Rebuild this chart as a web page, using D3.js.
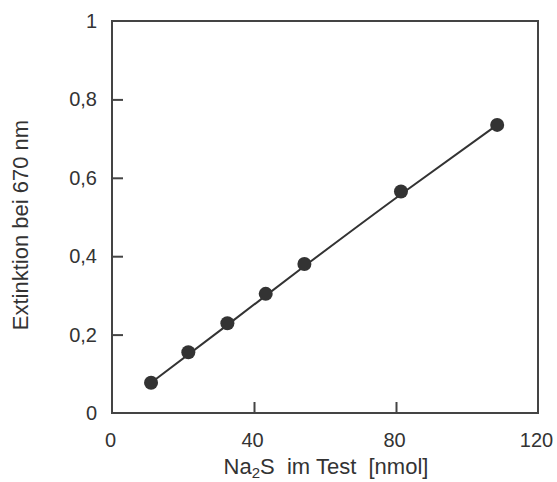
<!DOCTYPE html>
<html>
<head>
<meta charset="utf-8">
<script src="https://cdn.jsdelivr.net/npm/d3@7"></script>
<style>
  body { margin: 0; background: #fff; }
  svg text { font-family: "Liberation Sans", Arial, sans-serif; fill: #333; }
</style>
</head>
<body>
<svg id="chart"></svg>
<script>
// measured points (Na2S nmol, extinction)
const xVals = [11, 21.5, 32.5, 43.3, 54.2, 81.4, 108.5];
const yVals = [0.077, 0.155, 0.229, 0.304, 0.380, 0.565, 0.735];
// calibration curve
const fitX = [11, 33, 55, 82, 108.5];
const fitY = [0.077, 0.228, 0.380, 0.562, 0.735];
const xTicks = [0, 40, 80, 120];
const yTicks = [0, 0.2, 0.4, 0.6, 0.8, 1];

const width = 557;
const height = 482;
const padL = 112, padR = 538, padT = 21, padB = 413;

const svg = d3.select("#chart").attr("width", width).attr("height", height);

const xScale = d3.scaleLinear().domain([0, 120]).range([padL, padR]);
const yScale = d3.scaleLinear().domain([0, 1]).range([padB, padT]);

const fmt = d => d3.format("")(d).replace(".", ",");

// frame
svg.append("rect")
  .attr("x", padL).attr("y", padT)
  .attr("width", padR - padL).attr("height", padB - padT)
  .attr("fill", "none").attr("stroke", "#444").attr("stroke-width", 2);

// axes with inward ticks
const xAxis = d3.axisBottom(xScale).tickValues(xTicks).tickSize(0).tickPadding(0).tickFormat(d3.format("d"));
const gx = svg.append("g").attr("transform", "translate(0," + padB + ")").call(xAxis);
gx.select(".domain").remove();
gx.selectAll(".tick text").attr("dy", null).attr("y", 34).attr("dx", -2)
  .style("font-size", "20px").style("font-family", "Liberation Sans, Arial, sans-serif").attr("fill", "#333");
gx.selectAll(".tick").filter(d => d > 0 && d < 120).append("line")
  .attr("y1", 0).attr("y2", -11).attr("stroke", "#444").attr("stroke-width", 2);

const yAxis = d3.axisLeft(yScale).tickValues(yTicks).tickSize(0).tickPadding(15).tickFormat(fmt);
const gy = svg.append("g").attr("transform", "translate(" + padL + ",0)").call(yAxis);
gy.select(".domain").remove();
gy.selectAll(".tick text")
  .style("font-size", "20px").style("font-family", "Liberation Sans, Arial, sans-serif").attr("fill", "#333");
gy.selectAll(".tick").filter(d => d > 0 && d < 1).append("line")
  .attr("x1", 0).attr("x2", 11).attr("stroke", "#444").attr("stroke-width", 2);

// curve
const line = d3.line()
  .x((d, i) => xScale(fitX[i]))
  .y(d => yScale(d))
  .curve(d3.curveMonotoneX);
svg.append("path")
  .datum(fitY)
  .attr("d", line)
  .attr("fill", "none").attr("stroke", "#333").attr("stroke-width", 2);

// points
svg.selectAll("circle.pt")
  .data(xVals)
  .enter()
  .append("circle")
  .attr("class", "pt")
  .attr("cx", d => xScale(d))
  .attr("cy", (d, i) => yScale(yVals[i]))
  .attr("r", 7)
  .attr("fill", "#333");

// axis titles
const xTitle = svg.append("text")
  .attr("x", (padL + padR) / 2 + 1).attr("y", 474)
  .attr("text-anchor", "middle")
  .style("font-size", "22px");
xTitle.append("tspan").text("Na");
xTitle.append("tspan").text("2").attr("dy", 4).style("font-size", "15px");
xTitle.append("tspan").text("S").attr("dy", -4);
xTitle.append("tspan").text("\u00a0 im Test \u00a0[nmol]");

svg.append("text")
  .attr("transform", "translate(28,225) rotate(-90)")
  .attr("text-anchor", "middle")
  .style("font-size", "22px")
  .text("Extinktion bei 670 nm");
</script>
</body>
</html>
